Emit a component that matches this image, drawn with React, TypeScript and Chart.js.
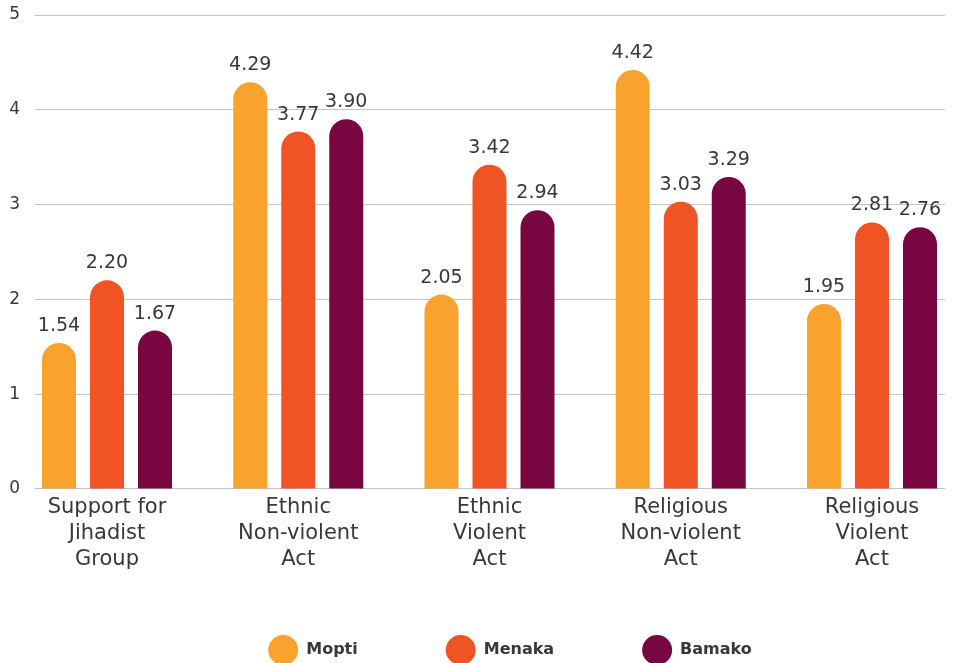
import React, { useEffect, useRef } from 'react';
import { Chart, registerables } from 'chart.js';

Chart.register(...registerables);

const categories: string[][] = [
  ['Support for', 'Jihadist', 'Group'],
  ['Ethnic', 'Non-violent', 'Act'],
  ['Ethnic', 'Violent', 'Act'],
  ['Religious', 'Non-violent', 'Act'],
  ['Religious', 'Violent', 'Act'],
];
const seriesNames = ['Mopti', 'Menaka', 'Bamako'];
const mopti = [1.54, 4.29, 2.05, 4.42, 1.95];
const menaka = [2.2, 3.77, 3.42, 3.03, 2.81];
const bamako = [1.67, 3.9, 2.94, 3.29, 2.76];
const yTicks = [0, 1, 2, 3, 4, 5];

const colors = ['#F9A22E', '#F05324', '#780640'];
const FONT = '"DejaVu Sans", sans-serif';
const TEXT = '#383838';

const valueLabels = {
  id: 'valueLabels',
  afterDatasetsDraw(chart: any) {
    const ctx = chart.ctx;
    ctx.save();
    ctx.font = `normal 19px ${FONT}`;
    ctx.fillStyle = TEXT;
    ctx.textAlign = 'center';
    ctx.textBaseline = 'middle';
    chart.data.datasets.forEach((ds: any, di: number) => {
      const meta = chart.getDatasetMeta(di);
      meta.data.forEach((bar: any, i: number) => {
        const v = ds.data[i].y;
        ctx.fillText(v.toFixed(2), bar.x, bar.y - 17);
      });
    });
    ctx.restore();
  },
};

const customLegend = {
  id: 'customLegend',
  afterDraw(chart: any) {
    const ctx = chart.ctx;
    const cy = chart.height - 13;
    const r = 15;
    const gap = 88;
    ctx.save();
    ctx.font = `bold 16px ${FONT}`;
    ctx.textBaseline = 'middle';
    const items = chart.data.datasets.map((ds: any) => ({
      label: ds.label,
      color: ds.backgroundColor,
      w: 2 * r + 8 + ctx.measureText(ds.label).width,
    }));
    const total = items.reduce((s: number, it: any) => s + it.w, 0) + gap * (items.length - 1);
    let x = (chart.chartArea.left + chart.chartArea.right) / 2 + 20 - total / 2;
    items.forEach((it: any) => {
      ctx.fillStyle = it.color;
      ctx.beginPath();
      ctx.arc(x + r, cy, r, 0, Math.PI * 2);
      ctx.fill();
      ctx.fillStyle = TEXT;
      ctx.textAlign = 'left';
      ctx.fillText(it.label, x + 2 * r + 8, cy);
      x += it.w + gap;
    });
    ctx.restore();
  },
};

export default function App() {
  const ref = useRef<HTMLCanvasElement | null>(null);

  useEffect(() => {
    if (!ref.current) return;
    const series = [mopti, menaka, bamako];
    const chart = new Chart(ref.current, {
      type: 'bar',
      data: {
        datasets: series.map((vals, si) => ({
          label: seriesNames[si],
          data: vals.map((v, i) => ({ x: i, y: v })),
          backgroundColor: colors[si],
          borderRadius: { topLeft: 17, topRight: 17, bottomLeft: 0, bottomRight: 0 },
          borderSkipped: 'bottom',
          categoryPercentage: 0.753,
          barPercentage: 0.708,
        })),
      },
      options: {
        animation: false,
        responsive: false,
        maintainAspectRatio: false,
        layout: { padding: { left: 10, right: 8, top: 15, bottom: 84 } },
        plugins: {
          legend: { display: false },
          tooltip: { enabled: false },
        },
        scales: {
          x: {
            type: 'linear',
            offset: false,
            min: -0.3765,
            max: 4.3817,
            grid: { display: false, offset: false, drawTicks: false },
            border: { display: false },
            afterBuildTicks: (axis: any) => {
              axis.ticks = categories.map((_, i) => ({ value: i }));
            },
            afterFit: (axis: any) => {
              axis.paddingLeft = 0;
              axis.paddingRight = 0;
            },
            ticks: {
              autoSkip: false,
              maxRotation: 0,
              padding: 6,
              color: TEXT,
              font: { family: FONT, size: 21, weight: 'normal', lineHeight: 1.24 },
              callback: (v: any) => categories[Math.round(Number(v))] ?? '',
            },
          },
          y: {
            min: 0,
            max: 5,
            afterBuildTicks: (axis: any) => {
              axis.ticks = yTicks.map((v) => ({ value: v }));
            },
            afterFit: (axis: any) => {
              axis.paddingTop = 0;
              axis.paddingBottom = 0;
              axis.width = 25;
            },
            grid: { color: '#c4c4c4', lineWidth: 1, drawTicks: false },
            border: { display: false },
            ticks: {
              padding: 15,
              color: TEXT,
              font: { family: FONT, size: 17, weight: 'normal' },
            },
          },
        },
      },
      plugins: [valueLabels, customLegend],
    });
    return () => chart.destroy();
  }, []);

  return (
    <div style={{ position: 'absolute', left: 0, top: 0, width: 953, height: 663, background: '#fff' }}>
      <canvas ref={ref} width={953} height={663} style={{ width: 953, height: 663 }} />
    </div>
  );
}
